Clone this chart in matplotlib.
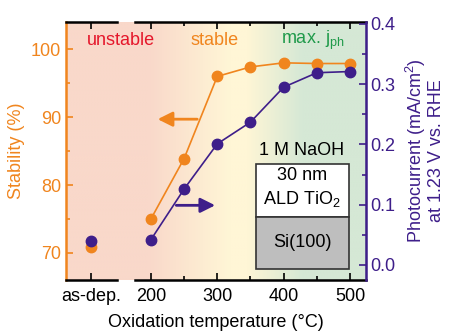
import numpy as np
import matplotlib
matplotlib.use('Agg')
import matplotlib.pyplot as plt
from matplotlib.colors import LinearSegmentedColormap
from matplotlib.patches import Rectangle

plt.rcParams['font.family'] = ['Liberation Sans', 'DejaVu Sans']
plt.rcParams['mathtext.fontset'] = 'custom'
plt.rcParams['mathtext.rm'] = 'Liberation Sans'
plt.rcParams['mathtext.it'] = 'Liberation Sans:italic'
plt.rcParams['font.size'] = 13

# data
temps = [110, 200, 250, 300, 350, 400, 450, 500]   # 110 = "as-dep." slot
stability = [70.8, 75.0, 83.9, 96.0, 97.4, 98.0, 97.9, 97.9]
photocurrent = [0.039, 0.042, 0.126, 0.201, 0.237, 0.295, 0.319, 0.321]
xtick_pos = [110, 200, 300, 400, 500]
xtick_labels = ['as-dep.', '200', '300', '400', '500']

orange = '#F0851E'
purple = '#3E1E8A'

fig = plt.figure(figsize=(4.53, 3.35), dpi=100)
ax = fig.add_axes([0.1457, 0.164, 0.662, 0.770])
ax2 = ax.twinx()

xmin, xmax = 72, 524
ax.set_xlim(xmin, xmax)
ax.set_ylim(66, 104)
ax2.set_ylim(-0.025, 0.403)

# background gradient
bg = LinearSegmentedColormap.from_list('bg', [
    (0.0, '#F9D8CA'), ((195 - xmin) / (xmax - xmin), '#F9D8CA'),
    ((320 - xmin) / (xmax - xmin), '#FFF6D6'), ((345 - xmin) / (xmax - xmin), '#FFF6D6'),
    ((430 - xmin) / (xmax - xmin), '#D5E8D5'), (1.0, '#D5E8D5')])
grad = np.linspace(0, 1, 500).reshape(1, -1)
ax.imshow(grad, cmap=bg, aspect='auto', extent=[xmin, xmax, 66, 104], zorder=0)

# series
ax.plot(temps[1:], stability[1:], '-', color=orange, lw=1.2, zorder=3)
ax.plot(temps, stability, 'o', color=orange, ms=7.5, zorder=3)
ax2.plot(temps[1:], photocurrent[1:], '-', color=purple, lw=1.2, zorder=3)
ax2.plot(temps, photocurrent, 'o', color=purple, ms=7.5, zorder=3)

# broken x axis lines
for s in ['top', 'bottom']:
    ax.spines[s].set_visible(False)
    ax2.spines[s].set_visible(False)
tr = ax.get_xaxis_transform()
for y in [0, 1]:
    ax.plot([xmin, 149], [y, y], color='black', lw=1.8, transform=tr, clip_on=False, zorder=5)
    ax.plot([176, xmax], [y, y], color='black', lw=1.8, transform=tr, clip_on=False, zorder=5)

ax.spines['left'].set_color(orange)
ax.spines['left'].set_linewidth(1.8)
ax2.spines['right'].set_color(purple)
ax2.spines['right'].set_linewidth(1.8)
ax2.spines['left'].set_visible(False)

ax.set_xticks(xtick_pos)
ax.set_xticklabels(xtick_labels)
ax.set_xticks([250, 350, 450], minor=True)
ax.set_yticks([70, 80, 90, 100])
ax.set_yticks([75, 85, 95], minor=True)
ax2.set_yticks([0.0, 0.1, 0.2, 0.3, 0.4])
ax2.set_yticks([0.05, 0.15, 0.25, 0.35], minor=True)
ax2.set_yticklabels(['0.0', '0.1', '0.2', '0.3', '0.4'])

ax.tick_params(axis='x', which='both', direction='in', top=True, color='black', width=1.2)
ax.tick_params(axis='x', which='major', length=5, labelsize=13, pad=6)
ax.tick_params(axis='x', which='minor', length=3)
ax.tick_params(axis='y', which='both', direction='in', color=orange, labelcolor=orange, width=1.2)
ax.tick_params(axis='y', which='major', length=5, labelsize=13)
ax.tick_params(axis='y', which='minor', length=3)
ax2.tick_params(axis='y', which='both', direction='in', color=purple, labelcolor=purple, width=1.2)
ax2.tick_params(axis='y', which='major', length=5, labelsize=13)
ax2.tick_params(axis='y', which='minor', length=3)

ax.set_xlabel('Oxidation temperature (°C)', fontsize=13, labelpad=6)
ax.set_ylabel('Stability (%)', color=orange, fontsize=13, labelpad=4)
ax2.set_ylabel('Photocurrent (mA/cm$^\\mathregular{2}$)\nat 1.23 V vs. RHE',
               color=purple, fontsize=13, labelpad=6, linespacing=1.0)

# region labels
ax.text(155, 0.93, 'unstable', color='#E5172B', fontsize=13, ha='center', va='center', transform=tr)
ax.text(296, 0.93, 'stable', color=orange, fontsize=13, ha='center', va='center', transform=tr)
ax.text(444, 0.93, 'max. j$_\\mathregular{ph}$', color='#1F9A4A', fontsize=13, ha='center', va='center', transform=tr)

# arrows
ax.annotate('', xy=(206, 89.7), xytext=(274, 89.7),
            arrowprops=dict(arrowstyle='-|>', color=orange, lw=2, mutation_scale=22), zorder=4)
ax2.annotate('', xy=(301, 0.099), xytext=(234, 0.099),
             arrowprops=dict(arrowstyle='-|>', color=purple, lw=2, mutation_scale=22), zorder=4)

# sample stack
ax2.text(427, 0.19, '1 M NaOH', fontsize=13, ha='center', va='center')
ax2.add_patch(Rectangle((358.6, 0.079), 139.3, 0.088, facecolor='white', edgecolor='#333333', lw=1.2, zorder=4))
ax2.add_patch(Rectangle((358.6, -0.006), 139.3, 0.085, facecolor='#BEBEBE', edgecolor='#333333', lw=1.2, zorder=4))
ax2.text(428, 0.149, '30 nm', fontsize=13, ha='center', va='center', zorder=5)
ax2.text(428, 0.109, 'ALD TiO$_\\mathregular{2}$', fontsize=13, ha='center', va='center', zorder=5)
ax2.text(428, 0.038, 'Si(100)', fontsize=13, ha='center', va='center', zorder=5)

fig.savefig('out.png', dpi=100)
